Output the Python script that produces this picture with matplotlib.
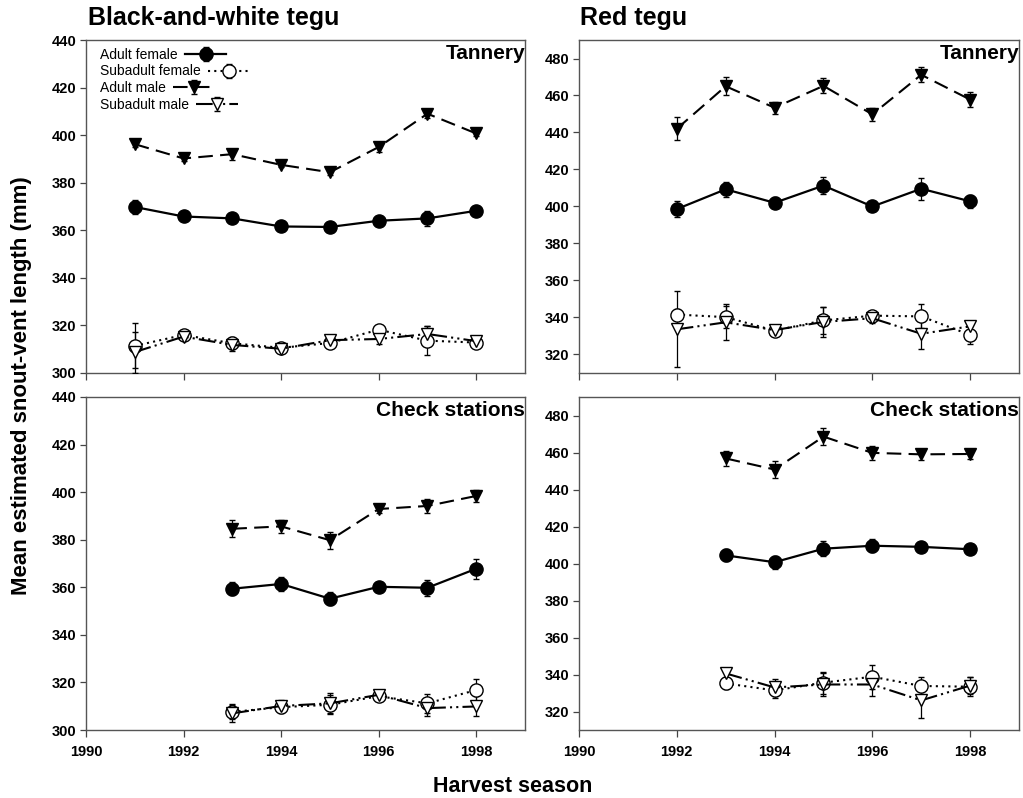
import matplotlib
matplotlib.use("Agg")
import matplotlib.pyplot as plt

plt.rcParams['font.family'] = ['Liberation Sans', 'DejaVu Sans']

# ---------------- data ----------------
# Black-and-white tegu, Tannery
bw_t_years = [1991, 1992, 1993, 1994, 1995, 1996, 1997, 1998]
bw_t_af = [369.8, 365.8, 365.0, 361.6, 361.4, 364.0, 365.0, 368.2]
bw_t_af_err = [3.0, 1.2, 1.2, 1.0, 1.0, 1.2, 3.0, 1.2]
bw_t_sf = [311.4, 316.0, 312.5, 310.6, 312.6, 318.2, 313.6, 312.8]
bw_t_sf_err = [9.5, 1.5, 2.5, 1.0, 1.2, 1.5, 6.0, 2.0]
bw_t_am = [396.2, 390.2, 392.0, 387.5, 384.4, 395.0, 409.0, 400.7]
bw_t_am_err = [1.0, 1.2, 2.3, 1.0, 1.0, 2.0, 2.0, 1.2]
bw_t_sm = [308.8, 315.3, 311.8, 310.2, 313.8, 314.3, 316.4, 313.4]
bw_t_sm_err = [8.6, 1.5, 2.5, 1.0, 1.5, 2.0, 3.2, 2.2]

# Red tegu, Tannery
rd_t_years = [1992, 1993, 1994, 1995, 1996, 1997, 1998]
rd_t_af = [398.6, 409.3, 402.0, 411.3, 400.0, 409.6, 402.8]
rd_t_af_err = [4.2, 4.0, 3.0, 4.8, 2.5, 6.0, 3.5]
rd_t_sf = [341.6, 340.2, 332.9, 338.4, 341.0, 340.6, 330.6]
rd_t_sf_err = [3.2, 6.0, 2.0, 7.5, 2.0, 6.5, 5.0]
rd_t_am = [442.0, 465.0, 453.4, 465.2, 449.8, 471.2, 457.8]
rd_t_am_err = [6.2, 5.0, 3.2, 4.0, 3.5, 4.0, 4.0]
rd_t_sm = [333.6, 337.4, 333.2, 337.6, 339.6, 331.2, 335.2]
rd_t_sm_err = [20.6, 9.8, 2.2, 8.0, 2.8, 8.0, 3.0]

# Black-and-white tegu, Check stations
bw_c_years = [1993, 1994, 1995, 1996, 1997, 1998]
bw_c_af = [359.4, 361.4, 355.2, 360.2, 359.8, 367.8]
bw_c_af_err = [2.8, 3.0, 2.8, 1.5, 3.4, 4.2]
bw_c_sf = [307.6, 309.6, 310.6, 314.2, 311.2, 316.8]
bw_c_sf_err = [3.0, 2.5, 4.0, 2.0, 4.0, 4.6]
bw_c_am = [384.6, 385.6, 379.8, 392.9, 394.2, 398.4]
bw_c_am_err = [3.6, 2.6, 3.6, 1.5, 3.0, 2.6]
bw_c_sm = [307.0, 310.1, 311.2, 314.8, 309.2, 309.9]
bw_c_sm_err = [3.8, 2.5, 4.2, 2.2, 3.5, 4.2]

# Red tegu, Check stations
rd_c_years = [1993, 1994, 1995, 1996, 1997, 1998]
rd_c_af = [404.4, 400.7, 408.0, 409.6, 409.0, 407.7]
rd_c_af_err = [3.2, 3.6, 4.0, 3.4, 2.5, 2.0]
rd_c_sf = [335.2, 331.4, 335.6, 338.8, 333.8, 333.4]
rd_c_sf_err = [3.2, 4.0, 6.0, 6.4, 4.6, 5.0]
rd_c_am = [456.8, 450.8, 468.6, 459.8, 459.0, 459.2]
rd_c_am_err = [4.2, 4.6, 4.4, 3.6, 3.0, 2.6]
rd_c_sm = [340.6, 333.0, 334.6, 334.6, 326.0, 334.0]
rd_c_sm_err = [3.0, 4.4, 6.0, 6.4, 9.6, 4.6]

series_labels = ['Adult female', 'Subadult female', 'Adult male', 'Subadult male']
x_ticks = [1990, 1992, 1994, 1996, 1998]
bw_yticks = [300, 320, 340, 360, 380, 400, 420, 440]
rd_yticks = [320, 340, 360, 380, 400, 420, 440, 460, 480]

# ---------------- styles ----------------
styles = {
    'Adult female': dict(ls='-', marker='o', mfc='black', lw=1.6, ms=9.5, zorder=4),
    'Subadult female': dict(ls=(0, (1, 2)), marker='o', mfc='white', lw=1.5, ms=9.5, zorder=3),
    'Adult male': dict(ls=(0, (7, 3.5)), marker='v', mfc='black', lw=1.5, ms=9, zorder=4),
    'Subadult male': dict(ls=(0, (8, 2, 1, 2, 1, 2)), marker='v', mfc='white', lw=1.5, ms=9, zorder=3),
}

W, H = 1023, 798
fig = plt.figure(figsize=(W / 100, H / 100), dpi=100)


def add_ax(x0, x1, ytop, ybot):
    return fig.add_axes([x0 / W, (H - ybot) / H, (x1 - x0) / W, (ybot - ytop) / H])


ax_bw_t = add_ax(86, 525, 40, 373)
ax_rd_t = add_ax(579, 1019, 40, 373)
ax_bw_c = add_ax(86, 525, 397, 730)
ax_rd_c = add_ax(579, 1019, 397, 730)

panels = [
    (ax_bw_t, bw_t_years, [(bw_t_af, bw_t_af_err), (bw_t_sf, bw_t_sf_err), (bw_t_am, bw_t_am_err), (bw_t_sm, bw_t_sm_err)], (300, 440), bw_yticks, 'Tannery', False),
    (ax_rd_t, rd_t_years, [(rd_t_af, rd_t_af_err), (rd_t_sf, rd_t_sf_err), (rd_t_am, rd_t_am_err), (rd_t_sm, rd_t_sm_err)], (310, 490), rd_yticks, 'Tannery', False),
    (ax_bw_c, bw_c_years, [(bw_c_af, bw_c_af_err), (bw_c_sf, bw_c_sf_err), (bw_c_am, bw_c_am_err), (bw_c_sm, bw_c_sm_err)], (300, 440), bw_yticks, 'Check stations', True),
    (ax_rd_c, rd_c_years, [(rd_c_af, rd_c_af_err), (rd_c_sf, rd_c_sf_err), (rd_c_am, rd_c_am_err), (rd_c_sm, rd_c_sm_err)], (310, 490), rd_yticks, 'Check stations', True),
]

for ax, years, data, ylim, yticks, label, show_x in panels:
    for name, (vals, errs) in zip(series_labels, data):
        st = styles[name]
        ax.errorbar(years, vals, yerr=errs, color='black', ecolor='black',
                    elinewidth=0.9, capsize=2.5, capthick=0.9,
                    ls=st['ls'], lw=st['lw'], marker=st['marker'], ms=st['ms'],
                    mfc=st['mfc'], mec='black', mew=1.0, zorder=st['zorder'],
                    label=name)
    ax.set_xlim(1990, 1999)
    ax.set_ylim(*ylim)
    ax.set_xticks(x_ticks)
    ax.set_yticks(yticks)
    if show_x:
        ax.set_xticklabels([str(t) for t in x_ticks], fontsize=10.5, fontweight='bold')
    else:
        ax.set_xticklabels([])
    ax.set_yticklabels([str(t) for t in yticks], fontsize=10.5, fontweight='bold')
    ax.tick_params(axis='y', direction='out', length=4, width=0.9, color='#444444', pad=3)
    ax.tick_params(axis='x', direction='out', length=5, width=0.9, color='#444444', pad=6)
    for sp in ax.spines.values():
        sp.set_color('#555555')
        sp.set_linewidth(1.0)
    ax.text(1.0, 0.96, label, transform=ax.transAxes, ha='right', va='center',
            fontsize=15, fontweight='bold')

leg = ax_bw_t.legend(loc='upper left', bbox_to_anchor=(0.015, 1.0), frameon=False,
                     markerfirst=False, fontsize=10, handlelength=3.0,
                     labelspacing=0.2, handletextpad=0.5, borderpad=0.25,
                     borderaxespad=0.3)
for col in leg._legend_handle_box.get_children():
    col.align = 'left'

fig.text(88 / W, 1 - 18 / H, 'Black-and-white tegu', fontsize=18, fontweight='bold',
         ha='left', va='center')
fig.text(580 / W, 1 - 18 / H, 'Red tegu', fontsize=18, fontweight='bold',
         ha='left', va='center')
fig.text(22 / W, 1 - 386 / H, 'Mean estimated snout-vent length (mm)', fontsize=16,
         fontweight='bold', rotation=90, ha='center', va='center')
fig.text(513 / W, 1 - 787 / H, 'Harvest season', fontsize=15.5, fontweight='bold',
         ha='center', va='center')

fig.savefig('out.png', dpi=100)
